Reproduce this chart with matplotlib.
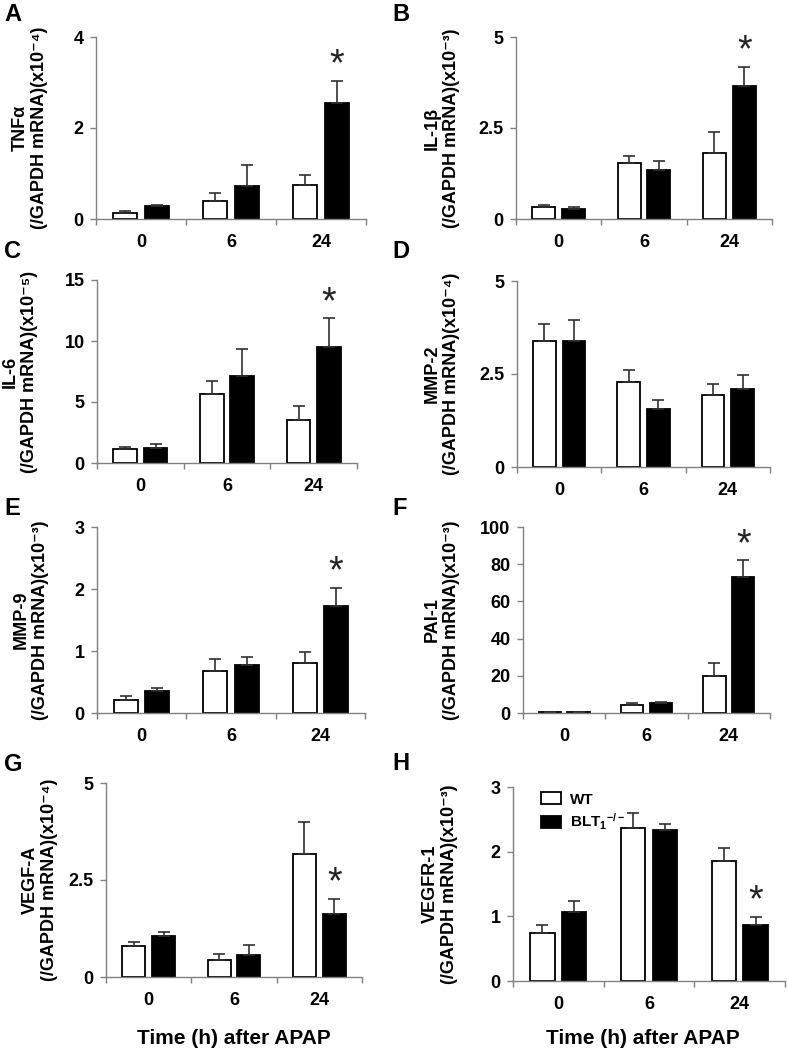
import matplotlib
matplotlib.use("Agg")
import matplotlib.pyplot as plt
from matplotlib.patches import Patch
from matplotlib.ticker import FuncFormatter, FixedLocator
import numpy as np

plt.rcParams['font.family'] = ['Liberation Sans', 'DejaVu Sans']
plt.rcParams['font.weight'] = 'bold'
plt.rcParams['mathtext.fontset'] = 'custom'
plt.rcParams['mathtext.rm'] = 'Liberation Sans:bold'
plt.rcParams['mathtext.bf'] = 'Liberation Sans:bold'
plt.rcParams['mathtext.it'] = 'Liberation Sans:bold'

## data
times = ["0", "6", "24"]
letters = ["A", "B", "C", "D", "E", "F", "G", "H"]
genes = ["TNFα", "IL-1β", "IL-6", "MMP-2", "MMP-9", "PAI-1", "VEGF-A", "VEGFR-1"]
scales = ["x10⁻⁴", "x10⁻³", "x10⁻⁵", "x10⁻⁴", "x10⁻³", "x10⁻³", "x10⁻⁴", "x10⁻³"]
ymax = [4, 5, 15, 5, 3, 100, 5, 3]
ystep = [2, 2.5, 5, 2.5, 1, 20, 2.5, 1]

wt_mean = [[0.13, 0.39, 0.75],
           [0.33, 1.55, 1.81],
           [1.18, 5.64, 3.53],
           [3.39, 2.28, 1.93],
           [0.215, 0.68, 0.80],
           [0.5, 4.5, 20.0],
           [0.79, 0.45, 3.18],
           [0.745, 2.37, 1.85]]
wt_sem = [[0.05, 0.19, 0.22],
          [0.06, 0.18, 0.59],
          [0.13, 1.07, 1.12],
          [0.45, 0.33, 0.30],
          [0.055, 0.19, 0.19],
          [0.0, 0.9, 7.1],
          [0.11, 0.13, 0.82],
          [0.115, 0.23, 0.20]]
ko_mean = [[0.28, 0.72, 2.54],
           [0.27, 1.35, 3.65],
           [1.26, 7.14, 9.53],
           [3.39, 1.56, 2.11],
           [0.35, 0.77, 1.73],
           [0.5, 5.4, 73.2],
           [1.05, 0.56, 1.62],
           [1.06, 2.34, 0.86]]
ko_sem = [[0.03, 0.46, 0.50],
          [0.06, 0.23, 0.53],
          [0.33, 2.17, 2.32],
          [0.56, 0.24, 0.35],
          [0.05, 0.13, 0.29],
          [0.0, 0.5, 8.9],
          [0.11, 0.27, 0.40],
          [0.17, 0.09, 0.13]]
# significant (KO vs WT at 24 h)
star = [True, True, True, False, True, True, True, True]

## layout (pixels: left, top, right, bottom)
W, H = 787, 1053
boxes = [(96, 37, 366, 219), (516, 37, 772, 219),
         (97, 280, 357, 463), (517, 281, 770, 467),
         (97, 527, 365, 713), (523, 527, 770, 713),
         (106, 783, 362, 977), (513, 787, 785, 981)]
label_x = [30, 442, 20, 442, 31, 442, 40, 440]
letter_pos = [(4, 3), (392, 3), (4, 240), (392, 240),
              (4, 497), (392, 497), (4, 753), (392, 752)]

fig = plt.figure(figsize=(W / 100, H / 100), dpi=100)

axcol = "#808080"
x = np.arange(len(times)) + 0.5
bw = 0.27
off = 0.175

for i in range(8):
    l, t, r, b = boxes[i]
    ax = fig.add_axes([l / W, 1 - b / H, (r - l) / W, (b - t) / H])
    ekw = dict(ecolor="#303030", elinewidth=1.2, capsize=4, capthick=1.2)
    ax.bar(x - off, wt_mean[i], bw, color="white", edgecolor="black", linewidth=1.3,
           yerr=[np.zeros(3), wt_sem[i]], error_kw=ekw, zorder=2)
    ax.bar(x + off, ko_mean[i], bw, color="black", edgecolor="black", linewidth=1.3,
           yerr=[np.zeros(3), ko_sem[i]], error_kw=ekw, zorder=2)
    if star[i]:
        top = ko_mean[i][2] + ko_sem[i][2]
        ax.annotate("*", (x[2] + off, top), xytext=(0, -2), textcoords="offset points",
                    ha="center", va="bottom", fontsize=27, fontweight="normal",
                    color="#222222")
    ax.set_xlim(0, 3)
    ax.set_ylim(0, ymax[i])
    ax.set_yticks(np.arange(0, ymax[i] + ystep[i] / 2, ystep[i]))
    ax.yaxis.set_major_formatter(FuncFormatter(lambda v, p: "%g" % v))
    ax.set_xticks(x)
    ax.set_xticklabels(times)
    ax.xaxis.set_minor_locator(FixedLocator([0, 1, 2, 3]))
    ax.tick_params(axis="x", which="major", length=0, pad=11, labelsize=13)
    ax.tick_params(axis="x", which="minor", length=4, width=1, color=axcol, direction="out")
    ax.tick_params(axis="y", length=4, width=1, color=axcol, pad=5, labelsize=13)
    for s in ["top", "right"]:
        ax.spines[s].set_visible(False)
    for s in ["left", "bottom"]:
        ax.spines[s].set_color(axcol)
        ax.spines[s].set_linewidth(1)
    fig.text(label_x[i] / W, 1 - (t + b) / 2 / H,
             genes[i] + "\n(/GAPDH mRNA)(" + scales[i] + ")",
             rotation=90, ha="center", va="center", multialignment="center",
             fontsize=13, linespacing=1.15)
    fig.text(letter_pos[i][0] / W, 1 - letter_pos[i][1] / H, letters[i],
             ha="left", va="top", fontsize=17)
    if i == 7:
        handles = [Patch(facecolor="white", edgecolor="black", linewidth=1.3, label="WT"),
                   Patch(facecolor="black", edgecolor="black", linewidth=1.3,
                         label=r"BLT$_{1}$$^{-/-}$")]
        ax.legend(handles=handles, loc="upper left", bbox_to_anchor=(0.07, 1.02),
                  frameon=False, fontsize=11, handlelength=1.3, handleheight=0.85,
                  handletextpad=0.6, labelspacing=0.35, borderaxespad=0.2)

fig.text(234 / W, 1 - 1038 / H, "Time (h) after APAP", ha="center", va="center", fontsize=15)
fig.text(643 / W, 1 - 1038 / H, "Time (h) after APAP", ha="center", va="center", fontsize=15)

fig.savefig("out.png", dpi=100)
